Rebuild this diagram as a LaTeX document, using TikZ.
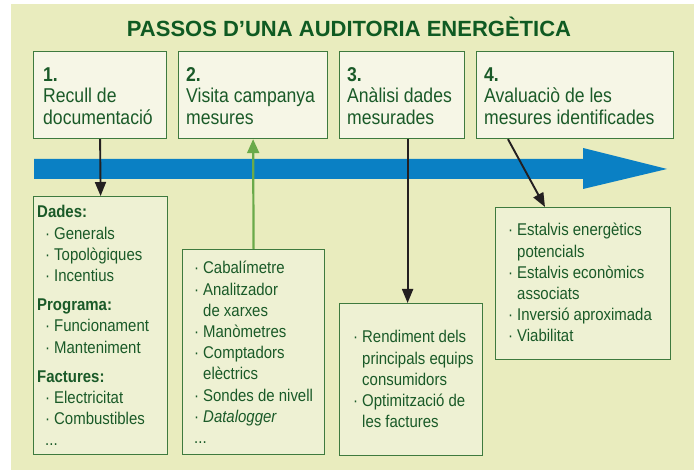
\documentclass[tikz,border=0pt]{standalone}
\usepackage{fontspec}
\setmainfont{Liberation Sans}
\newfontfamily\cond[FakeStretch=0.88]{Liberation Sans}
\usetikzlibrary{arrows.meta}
\definecolor{bg}{HTML}{E9ECBE}
\definecolor{topfill}{HTML}{F6F6E6}
\definecolor{lowfill}{HTML}{EEF1D3}
\definecolor{boxline}{HTML}{3E7A3E}
\definecolor{txtgreen}{HTML}{1A5A28}
\definecolor{titlegreen}{HTML}{0F5A22}
\definecolor{bandblue}{HTML}{0A80C4}
\definecolor{arrowgreen}{HTML}{6AAA4A}
\definecolor{arrowblack}{HTML}{231F20}
\tikzset{
  topbox/.style={draw=boxline, fill=topfill, line width=1.2pt, anchor=north west, inner sep=0pt},
  lowbox/.style={draw=boxline, fill=lowfill, line width=1.2pt, anchor=north west, inner sep=0pt},
  toptext/.style={anchor=base west, inner sep=0pt, text=txtgreen, font=\cond\fontsize{20}{21.5}\selectfont},
  lowtext/.style={anchor=base west, inner sep=0pt, text=txtgreen, font=\cond\fontsize{17}{21.2}\selectfont},
  blackarrow/.style={draw=arrowblack, line width=1.9pt, -{Triangle[length=14pt,width=11pt]}},
  greenarrow/.style={draw=arrowgreen, line width=2.2pt, -{Triangle[length=14pt,width=12pt]}}
}
\newcommand{\bl}{\makebox[9pt][l]{·}}
\newcommand{\ind}{\hspace*{9pt}}
\begin{document}
\begin{tikzpicture}[x=1pt,y=-1pt]
\useasboundingbox (0,0) rectangle (694,470);
\fill[white] (0,0) rectangle (694,470);
\fill[bg] (11,4) rectangle (694,470);

% title
\node[anchor=base, inner sep=0pt, text=titlegreen, font=\bfseries\fontsize{22}{26}\selectfont] (title) at (349,37) {PASSOS D’UNA AUDITORIA ENERGÈTICA};

% top boxes
\node[topbox, minimum width=133pt, minimum height=87pt] (b1) at (33,51) {};
\node[topbox, minimum width=149pt, minimum height=87pt] (b2) at (178,51) {};
\node[topbox, minimum width=125pt, minimum height=87pt] (b3) at (339,51) {};
\node[topbox, minimum width=197pt, minimum height=87pt] (b4) at (476,51) {};

\node[toptext] (t1) at (43,81.5) {\parbox[t]{130pt}{\raggedright\textbf{1.}\\Recull de\\documentació}};
\node[toptext] (t2) at (186,81.5) {\parbox[t]{140pt}{\raggedright\textbf{2.}\\Visita campanya\\mesures}};
\node[toptext] (t3) at (347,81.5) {\parbox[t]{120pt}{\raggedright\textbf{3.}\\Anàlisi dades\\mesurades}};
\node[toptext] (t4) at (484,81.5) {\parbox[t]{190pt}{\raggedright\textbf{4.}\\Avaluaciò de les\\mesures identificades}};

% blue band arrow
\fill[bandblue] (34,159) -- (583,159) -- (583,148) -- (667,169) -- (583,189) -- (583,179) -- (34,179) -- cycle;

% lower boxes
\node[lowbox, minimum width=134pt, minimum height=258pt] (la) at (33,196) {};
\node[lowbox, minimum width=142pt, minimum height=205pt] (lb) at (182,249) {};
\node[lowbox, minimum width=143pt, minimum height=152pt] (lc) at (339,303) {};
\node[lowbox, minimum width=175pt, minimum height=152pt] (ld) at (495,207) {};

\node[lowtext] (ta) at (37,218) {\parbox[t]{128pt}{\raggedright
\textbf{Dades:}\\
\hspace*{8pt}\bl Generals\\
\hspace*{8pt}\bl Topològiques\\
\hspace*{8pt}\bl Incentius\\[8pt]
\textbf{Programa:}\\
\hspace*{8pt}\bl Funcionament\\
\hspace*{8pt}\bl Manteniment\\[8pt]
\textbf{Factures:}\\
\hspace*{8pt}\bl Electricitat\\
\hspace*{8pt}\bl Combustibles\\
\hspace*{8pt}...}};

\node[lowtext] (tb) at (194,274) {\parbox[t]{128pt}{\raggedright
\bl Cabalímetre\\
\bl Analitzador\\
\ind de xarxes\\
\bl Manòmetres\\
\bl Comptadors\\
\ind elèctrics\\
\bl Sondes de nivell\\
\bl \textit{Datalogger}\\
...}};

\node[lowtext] (tc) at (353,343) {\parbox[t]{128pt}{\raggedright
\bl Rendiment dels\\
\ind principals equips\\
\ind consumidors\\
\bl Optimització de\\
\ind les factures}};

\node[lowtext] (td) at (508,236) {\parbox[t]{160pt}{\raggedright
\bl Estalvis energètics\\
\ind potencials\\
\bl Estalvis econòmics\\
\ind associats\\
\bl Inversió aproximada\\
\bl Viabilitat}};

% connectors
\draw[blackarrow] (b1.south) -- (la.north);
\draw[greenarrow] (lb.north) -- (b2.south);
\draw[blackarrow] ([xshift=-3.5pt]lc.north |- b3.south) -- ([xshift=-3.5pt]lc.north);
\draw[blackarrow] ([xshift=32pt]b4.south west) -- ([xshift=50pt]ld.north west);
\end{tikzpicture}
\end{document}
